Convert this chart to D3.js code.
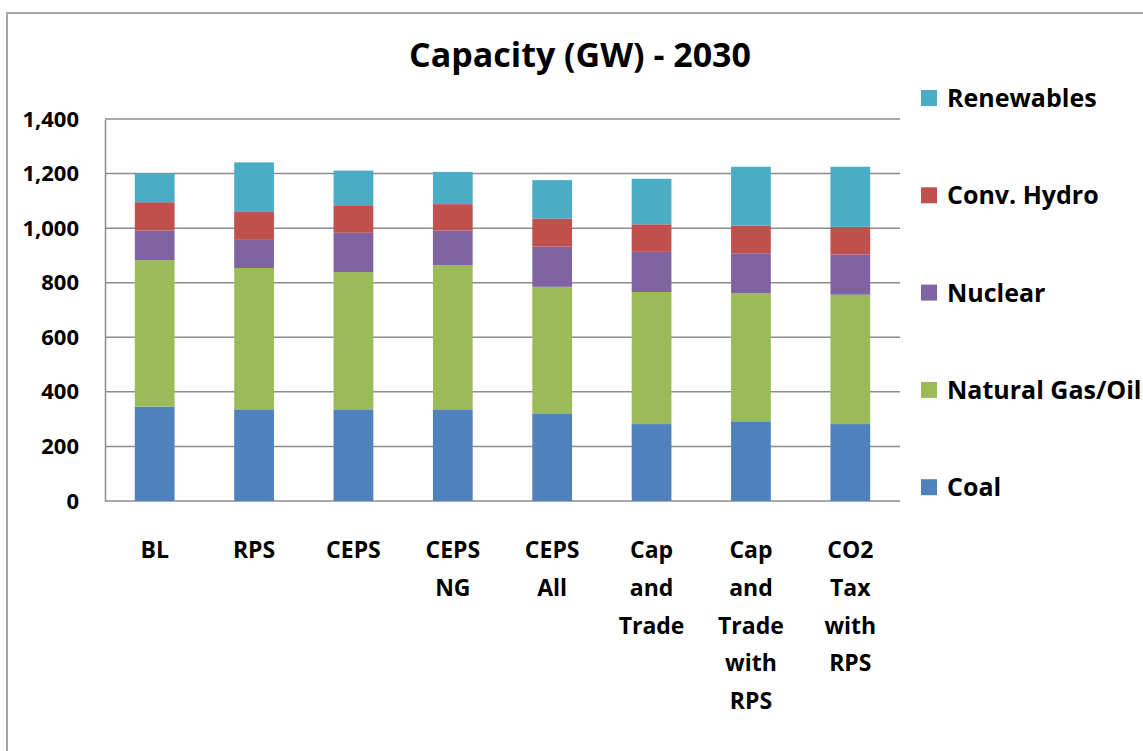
<!DOCTYPE html>
<html>
<head>
<meta charset="utf-8">
<script src="https://cdn.jsdelivr.net/npm/d3@7"></script>
<style>
  html, body { margin: 0; padding: 0; background: #fff; }
  svg { display: block; font-family: "Open Sans", Lato, sans-serif; font-weight: bold; }
</style>
</head>
<body>
<svg id="chart" width="1143" height="751"></svg>
<script>
"use strict";

// categories, split into the lines they are drawn on
var categories = [
    ['BL'],
    ['RPS'],
    ['CEPS'],
    ['CEPS', 'NG'],
    ['CEPS', 'All'],
    ['Cap', 'and', 'Trade'],
    ['Cap', 'and', 'Trade', 'with', 'RPS'],
    ['CO2', 'Tax', 'with', 'RPS']
];

// stacked bottom to top
var seriesNames = ['Coal', 'Natural Gas/Oil', 'Nuclear', 'Conv. Hydro', 'Renewables'];
var seriesColors = ['#4f81bd', '#9bbb59', '#8064a2', '#c0504d', '#4bacc6'];

var coal       = [346, 336, 336, 336, 321, 282, 292, 282];
var naturalGas = [537, 518, 503, 528, 464, 484, 469, 474];
var nuclear    = [108, 103, 144, 127, 147, 147, 147, 147];
var convHydro  = [104, 102, 101,  97, 103, 101, 101, 102];
var renewables = [106, 182, 127, 118, 141, 167, 216, 220];

var yTicks = [0, 200, 400, 600, 800, 1000, 1200, 1400];

var plot = { left: 105, right: 900, top: 119, bottom: 501 };

var svg = d3.select('#chart');

var rows = categories.map(function(c, i) {
    return {
        key: i,
        'Coal': coal[i],
        'Natural Gas/Oil': naturalGas[i],
        'Nuclear': nuclear[i],
        'Conv. Hydro': convHydro[i],
        'Renewables': renewables[i]
    };
});

var stacked = d3.stack().keys(seriesNames)(rows);

var x = d3.scaleBand()
    .domain(d3.range(categories.length))
    .range([plot.left, plot.right])
    .paddingInner(0.6)
    .paddingOuter(0.3);

var y = d3.scaleLinear()
    .domain([0, 1400])
    .range([plot.bottom, plot.top]);

var color = d3.scaleOrdinal().domain(seriesNames).range(seriesColors);

// outer frame of the chart object
svg.append('rect')
    .attr('x', 7).attr('y', 13)
    .attr('width', 1300).attr('height', 900)
    .attr('fill', 'none')
    .attr('stroke', '#a6a6a6')
    .attr('stroke-width', 2);

// gridlines
svg.append('g').classed('grid', true)
    .selectAll('line')
    .data(yTicks)
    .enter().append('line')
        .attr('x1', plot.left).attr('x2', plot.right)
        .attr('y1', function(d) { return y(d); })
        .attr('y2', function(d) { return y(d); })
        .attr('stroke', '#8c8c8c')
        .attr('stroke-width', 1.5);

// value axis
var yAxis = svg.append('g')
    .attr('transform', 'translate(' + plot.left + ',0)')
    .call(d3.axisLeft(y).tickValues(yTicks).tickSize(0).tickPadding(26).tickFormat(d3.format(',')));

yAxis.select('.domain').attr('stroke', '#8c8c8c').attr('stroke-width', 1.5);
yAxis.selectAll('text')
    .attr('font-family', '"Open Sans", Lato, sans-serif')
    .attr('font-weight', 'bold')
    .attr('font-size', 22)
    .attr('fill', '#000');

// bars
svg.append('g').classed('bars', true)
    .selectAll('g')
    .data(stacked)
    .enter().append('g')
        .attr('fill', function(d) { return color(d.key); })
        .selectAll('rect')
        .data(function(d) { return d; })
        .enter().append('rect')
            .attr('x', function(d) { return x(d.data.key); })
            .attr('width', x.bandwidth())
            .attr('y', function(d) { return y(d[1]); })
            .attr('height', function(d) { return y(d[0]) - y(d[1]); });

// category labels
var catLabels = svg.append('g').classed('categories', true)
    .selectAll('text')
    .data(categories)
    .enter().append('text')
        .attr('text-anchor', 'middle')
        .attr('font-size', 23)
        .attr('fill', '#000')
        .attr('x', function(d, i) { return x(i) + x.bandwidth() / 2; });

catLabels.selectAll('tspan')
    .data(function(d) { return d; })
    .enter().append('tspan')
        .attr('x', function() { return d3.select(this.parentNode).attr('x'); })
        .attr('y', function(d, j) { return 558 + j * 37.8; })
        .text(function(d) { return d; });

// title
svg.append('text')
    .attr('x', 580).attr('y', 67)
    .attr('text-anchor', 'middle')
    .attr('font-size', 34)
    .attr('fill', '#000')
    .text('Capacity (GW) - 2030');

// legend, top to bottom reversed from the stack
var legend = svg.append('g').classed('legend', true)
    .selectAll('g')
    .data(seriesNames.slice().reverse())
    .enter().append('g')
        .attr('transform', function(d, i) { return 'translate(921,' + (98 + i * 97.3) + ')'; });

legend.append('rect')
    .attr('x', 0).attr('y', -8)
    .attr('width', 16).attr('height', 16)
    .attr('fill', function(d) { return color(d); });

legend.append('text')
    .attr('x', 26).attr('y', 9)
    .attr('font-size', 25)
    .attr('fill', '#000')
    .text(function(d) { return d; });
</script>
</body>
</html>
